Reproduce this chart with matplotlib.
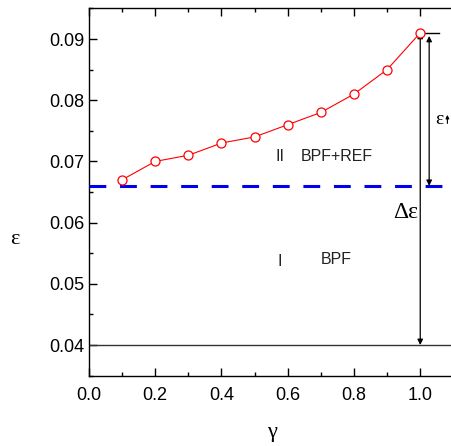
import matplotlib
matplotlib.use("Agg")
import matplotlib.pyplot as plt
from matplotlib.ticker import MultipleLocator

gamma = [0.1, 0.2, 0.3, 0.4, 0.5, 0.6, 0.7, 0.8, 0.9, 1.0]
eps = [0.067, 0.070, 0.071, 0.073, 0.074, 0.076, 0.078, 0.081, 0.085, 0.091]
eps_threshold = 0.066
eps_base = 0.040
xticks = [0.0, 0.2, 0.4, 0.6, 0.8, 1.0]
yticks = [0.04, 0.05, 0.06, 0.07, 0.08, 0.09]

plt.rcParams['font.family'] = ['Liberation Sans', 'DejaVu Sans']

fig = plt.figure(figsize=(4.52, 4.46), dpi=100)
ax = fig.add_axes([89/452, (446-375.6)/446, 1 - 89/452 + 0.003, (375.6-8.4)/446])

ax.plot(gamma, eps, color='red', lw=0.8, marker='o', ms=6.5,
        markerfacecolor='white', markeredgecolor='red', mew=0.9, zorder=5)
ax.axhline(eps_threshold, color='#0000ee', lw=2.2, ls=(0, (5.5, 4.5)), zorder=3)
ax.axhline(eps_base, color='#333333', lw=1.0, zorder=2)
ax.plot([1.0, 1.057], [eps[-1], eps[-1]], color='black', lw=1.0)

ax.annotate('', xy=(1.0, eps[-1]), xytext=(1.0, eps_base),
            arrowprops=dict(arrowstyle='<|-|>', color='black', lw=0.9,
                            mutation_scale=8, shrinkA=0, shrinkB=0))
ax.annotate('', xy=(1.027, eps[-1] - 0.0005), xytext=(1.027, eps_threshold),
            arrowprops=dict(arrowstyle='<|-|>', color='black', lw=0.9,
                            mutation_scale=8, shrinkA=0, shrinkB=0))

ax.text(1.045, 0.0768, 'ε', fontsize=14, family=['Liberation Serif', 'DejaVu Serif'],
        va='center', ha='left')
ax.annotate('', xy=(1.082, 0.0776), xytext=(1.082, 0.0762),
            arrowprops=dict(arrowstyle='-|>', color='black', lw=0.8,
                            mutation_scale=5, shrinkA=0, shrinkB=0))
ax.text(0.955, 0.0617, 'Δε', fontsize=17, family=['Liberation Serif', 'DejaVu Serif'],
        va='center', ha='center')

ax.text(0.577, 0.0708, 'II', fontsize=11.5, va='center', ha='center', color='#222222')
ax.text(0.64, 0.0708, 'BPF+REF', fontsize=11.5, va='center', ha='left', color='#222222')
ax.text(0.577, 0.0537, 'I', fontsize=11.5, va='center', ha='center', color='#222222')
ax.text(0.70, 0.0540, 'BPF', fontsize=11.5, va='center', ha='left', color='#222222')

ax.set_xlim(0, 1.1)
ax.set_ylim(0.035, 0.095)
ax.set_xticks(xticks)
ax.set_yticks(yticks)
ax.set_xticklabels([f'{v:.1f}' for v in xticks])
ax.set_yticklabels([f'{v:.2f}' for v in yticks])
ax.xaxis.set_minor_locator(MultipleLocator(0.1))
ax.yaxis.set_minor_locator(MultipleLocator(0.005))
ax.tick_params(which='both', direction='in', top=True, right=False, labelsize=13, width=1.0)
ax.tick_params(which='major', length=6)
ax.tick_params(which='minor', length=3)
ax.tick_params(axis='x', pad=8)
ax.spines['right'].set_visible(False)
for s in ['left', 'bottom', 'top']:
    ax.spines[s].set_linewidth(1.0)

fig.text(272/452, 1 - 432/446, 'γ', fontsize=16, family=['Liberation Serif', 'DejaVu Serif'],
         ha='center', va='center')
fig.text(15/452, 1 - 240/446, 'ε', fontsize=16, family=['Liberation Serif', 'DejaVu Serif'],
         ha='center', va='center')

fig.savefig('out.png', dpi=100)
